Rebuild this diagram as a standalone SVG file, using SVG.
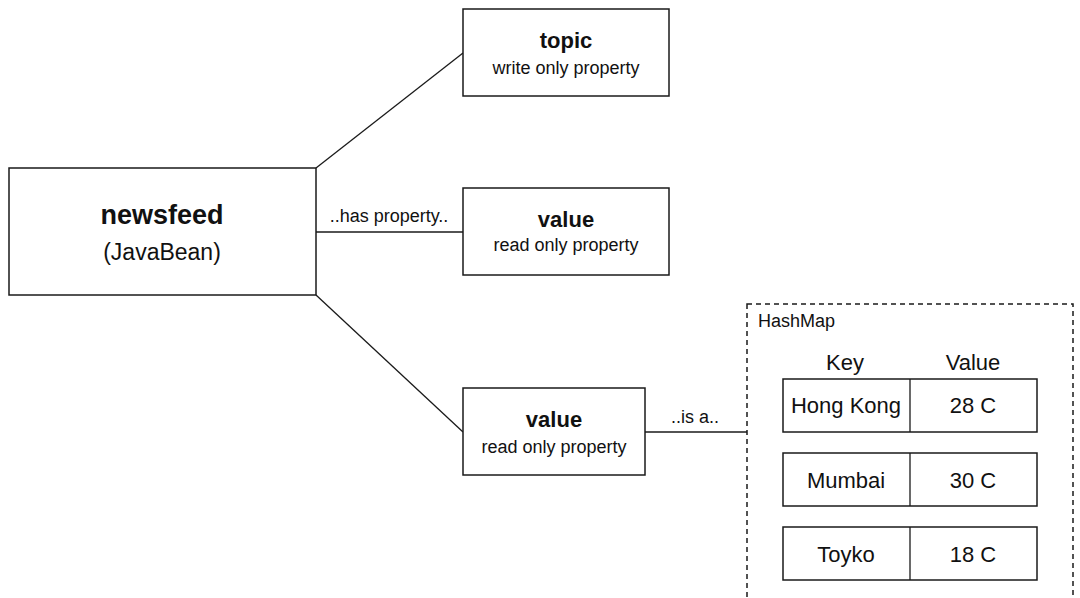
<svg xmlns="http://www.w3.org/2000/svg" width="1080" height="598" viewBox="0 0 1080 598">
<style>
.box{fill:#fff;stroke:#1a1a1a;stroke-width:1.5}
.ln{fill:none;stroke:#1a1a1a;stroke-width:1.3}
text{font-family:"Liberation Sans",Arial,sans-serif;fill:#111;text-anchor:middle}
.b{font-weight:bold}
.s{font-size:18px}
.m{font-size:22px}
</style>
<rect width="1080" height="598" fill="#fff"/>
<g id="connectors">
<line class="ln" x1="316" y1="168" x2="463" y2="53"/>
<line class="ln" x1="316" y1="232" x2="463" y2="232"/>
<line class="ln" x1="316" y1="295" x2="463" y2="432"/>
<line class="ln" x1="645" y1="432" x2="747" y2="432"/>
<text class="s" x="389" y="222">..has property..</text>
<text class="s" x="695" y="423">..is a..</text>
</g>
<g id="newsfeed">
<rect class="box" x="9" y="168" width="307" height="127"/>
<text class="b" x="162" y="224" font-size="27">newsfeed</text>
<text x="162" y="260" font-size="23">(JavaBean)</text>
</g>
<g id="topic">
<rect class="box" x="463" y="9" width="206" height="87"/>
<text class="b m" x="566" y="48">topic</text>
<text class="s" x="566" y="74">write only property</text>
</g>
<g id="value1">
<rect class="box" x="463" y="188" width="206" height="87"/>
<text class="b m" x="566" y="227">value</text>
<text class="s" x="566" y="251">read only property</text>
</g>
<g id="value2">
<rect class="box" x="463" y="388" width="182" height="87"/>
<text class="b m" x="554" y="427">value</text>
<text class="s" x="554" y="453">read only property</text>
</g>
<g id="hashmap">
<rect x="747" y="304" width="326" height="320" fill="none" stroke="#1a1a1a" stroke-width="1.5" stroke-dasharray="5,4"/>
<text class="s" x="758" y="327" style="text-anchor:start">HashMap</text>
<text class="m" x="845" y="370">Key</text>
<text class="m" x="973" y="370">Value</text>
</g>
<g id="row-hongkong">
<rect class="box" x="783" y="379" width="254" height="53"/>
<line class="ln" x1="910" y1="379" x2="910" y2="432"/>
<text class="m" x="846" y="413">Hong Kong</text>
<text class="m" x="973" y="413">28 C</text>
</g>
<g id="row-mumbai">
<rect class="box" x="783" y="453" width="254" height="53"/>
<line class="ln" x1="910" y1="453" x2="910" y2="506"/>
<text class="m" x="846" y="488">Mumbai</text>
<text class="m" x="973" y="488">30 C</text>
</g>
<g id="row-toyko">
<rect class="box" x="783" y="527" width="254" height="53"/>
<line class="ln" x1="910" y1="527" x2="910" y2="580"/>
<text class="m" x="846" y="562">Toyko</text>
<text class="m" x="973" y="562">18 C</text>
</g>
</svg>
